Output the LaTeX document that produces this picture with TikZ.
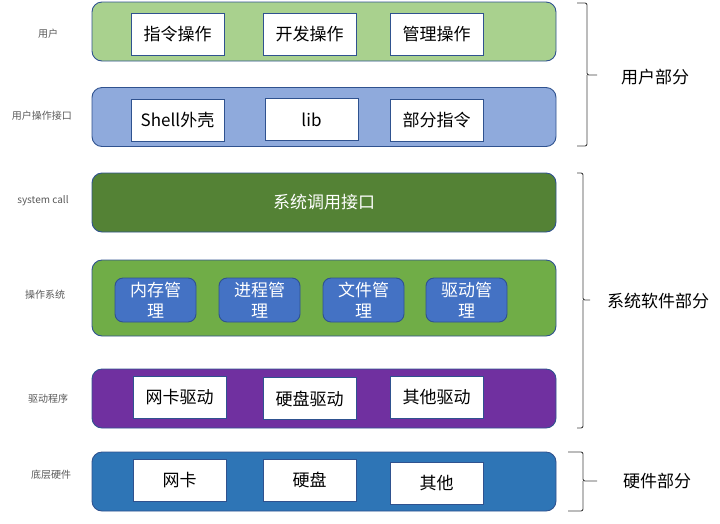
\documentclass[tikz,border=0pt]{standalone}
\usepackage{fontspec}
\setmainfont{Noto Sans CJK SC}
\definecolor{edge}{HTML}{2F528F}
\definecolor{usergreen}{HTML}{A9D18E}
\definecolor{ifaceblue}{HTML}{8FAADC}
\definecolor{callgreen}{HTML}{548235}
\definecolor{osgreen}{HTML}{70AD47}
\definecolor{modblue}{HTML}{4472C4}
\definecolor{drvpurple}{HTML}{7030A0}
\definecolor{hwblue}{HTML}{2E75B6}
\definecolor{sidegray}{HTML}{595959}
\definecolor{bracegray}{HTML}{404040}

\begin{document}
\begin{tikzpicture}[x=1pt, y=-1pt,
  every node/.style={font=\fontsize{17}{21}\selectfont, inner sep=0pt},
  layer/.style={draw=edge, line width=0.9pt, rounded corners=10pt, minimum width=464pt, minimum height=59pt},
  item/.style={draw=edge, fill=white, line width=0.9pt, minimum width=93pt, minimum height=42pt},
  module/.style={draw=edge, fill=modblue, line width=0.9pt, rounded corners=8pt, minimum width=81pt, minimum height=44pt, text=white, align=center},
  side/.style={font=\fontsize{10}{12}\selectfont, text=sidegray},
  bracket/.style={draw=bracegray, line width=0.9pt, rounded corners=2pt}]
	\useasboundingbox (0,0) rectangle (720,523);

	\node[layer, fill=usergreen] (user) at (324,31.5) {};
	\node[layer, fill=ifaceblue] (iface) at (324,117) {};
	\node[layer, fill=callgreen, text=white] (syscall) at (324,202.5) {系统调用接口};
	\node[layer, fill=osgreen, minimum height=76pt] (os) at (324,298) {};
	\node[layer, fill=drvpurple] (driver) at (324,398.5) {};
	\node[layer, fill=hwblue] (hw) at (324,481.5) {};

	\node[item] (cmdop) at (177.5,34.5) {指令操作};
	\node[item] (devop) at (309.5,34.5) {开发操作};
	\node[item] (mgmtop) at (436.5,34) {管理操作};

	\node[item] (shell) at (177.5,120) {Shell外壳};
	\node[item] (lib) at (311.5,119.5) {lib};
	\node[item] (partcmd) at (436.5,120) {部分指令};

	\node[module] (memmgr) at (155.5,300) {内存管\\理};
	\node[module] (procmgr) at (259.5,300) {进程管\\理};
	\node[module] (filemgr) at (363.5,300) {文件管\\理};
	\node[module] (drvmgr) at (466.5,300) {驱动管\\理};

	\node[item] (nicdrv) at (179.5,397.5) {网卡驱动};
	\node[item] (diskdrv) at (309.5,398.5) {硬盘驱动};
	\node[item] (otherdrv) at (436.5,397.5) {其他驱动};

	\node[item] (nic) at (179.5,480) {网卡};
	\node[item] (disk) at (309.5,480) {硬盘};
	\node[item] (other) at (436.5,483.5) {其他};

	\node[side] (userlbl) at (48,34) {用户};
	\node[side] (ifacelbl) at (42,116) {用户操作接口};
	\node[side] (calllbl) at (43,201) {system call};
	\node[side] (oslbl) at (45,295) {操作系统};
	\node[side] (drvlbl) at (48,399) {驱动程序};
	\node[side] (hwlbl) at (51,475) {底层硬件};

	\draw[bracket] (577,3) -- (587,3) -- (587,75) -- (597,75);
	\draw[bracket] (587,75) -- (587,146) -- (577,146);
	\draw[bracket] (577,173) -- (583,173) -- (583,300) -- (590,300);
	\draw[bracket] (583,300) -- (583,428) -- (577,428);
	\draw[bracket] (568,452) -- (583,452) -- (583,481) -- (597,481);
	\draw[bracket] (583,481) -- (583,511) -- (568,511);

	\node (userpart) at (655,77) {用户部分};
	\node (syspart) at (658,301) {系统软件部分};
	\node (hwpart) at (657,481) {硬件部分};
\end{tikzpicture}
\end{document}
